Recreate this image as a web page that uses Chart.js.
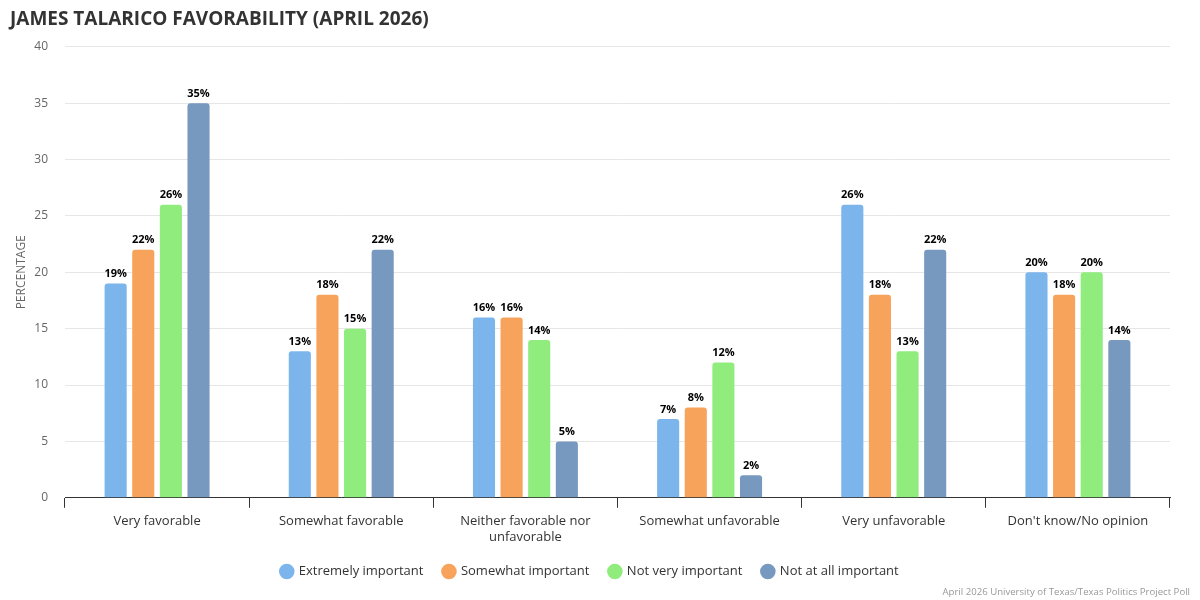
<!DOCTYPE html>
<html>
<head>
<meta charset="utf-8">
<script src="https://cdn.jsdelivr.net/npm/chart.js@4"></script>
<style>
html,body{margin:0;padding:0;background:#fff;}
#wrap{position:relative;width:1200px;height:600px;}
#credit{position:absolute;right:10px;bottom:2px;font:9.6px "Open Sans",sans-serif;color:#999;}
</style>
</head>
<body>
<div id="wrap">
<canvas id="c" width="1200" height="600"></canvas>
<div id="credit">April 2026 University of Texas/Texas Politics Project Poll</div>
</div>
<script>
const categories = [
  "Very favorable",
  "Somewhat favorable",
  ["Neither favorable nor", "unfavorable"],
  "Somewhat unfavorable",
  "Very unfavorable",
  "Don't know/No opinion"
];
const seriesNames = ["Extremely important", "Somewhat important", "Not very important", "Not at all important"];
const extremelyImportant = [19, 13, 16, 7, 26, 20];
const somewhatImportant = [22, 18, 16, 8, 18, 18];
const notVeryImportant = [26, 15, 14, 12, 13, 20];
const notAtAllImportant = [35, 22, 5, 2, 22, 14];
const yTicks = [0, 5, 10, 15, 20, 25, 30, 35, 40];
const colors = ["#7cb5ec", "#f7a35c", "#90ed7d", "#7798bf"];

const seriesValues = [extremelyImportant, somewhatImportant, notVeryImportant, notAtAllImportant];

const labelPlugin = {
  id: 'barLabels',
  afterDatasetsDraw(chart) {
    const ctx = chart.ctx;
    ctx.save();
    ctx.font = 'bold 11px "Open Sans", sans-serif';
    ctx.fillStyle = '#000';
    ctx.textAlign = 'center';
    ctx.textBaseline = 'bottom';
    chart.data.datasets.forEach((ds, i) => {
      const meta = chart.getDatasetMeta(i);
      meta.data.forEach((el, j) => {
        ctx.fillText(ds.data[j] + '%', el.x, el.y - 4);
      });
    });
    ctx.restore();
  }
};

new Chart(document.getElementById('c'), {
  type: 'bar',
  data: {
    labels: categories,
    datasets: seriesNames.map((n, i) => ({
      label: n,
      data: seriesValues[i],
      backgroundColor: colors[i],
      borderRadius: {topLeft: 3, topRight: 3, bottomLeft: 0, bottomRight: 0},
      borderSkipped: 'bottom',
      categoryPercentage: 0.6,
      barPercentage: 0.8
    }))
  },
  options: {
    responsive: false,
    animation: false,
    devicePixelRatio: 1,
    layout: {padding: {left: 10, right: 30, top: 0, bottom: 12}},
    plugins: {
      title: {
        display: true,
        text: 'JAMES TALARICO FAVORABILITY (APRIL 2026)',
        align: 'start',
        color: '#333',
        font: {family: '"Open Sans", sans-serif', size: 19, weight: 'bold'},
        padding: {top: 8, bottom: 16}
      },
      legend: {
        position: 'bottom',
        labels: {
          usePointStyle: true,
          pointStyle: 'circle',
          boxWidth: 11,
          boxHeight: 11,
          color: '#333',
          padding: 20,
          font: {family: '"Open Sans", sans-serif', size: 13}
        }
      },
      tooltip: {enabled: false}
    },
    scales: {
      x: {
        afterFit(scale) { scale.height -= 6; },
        grid: {display: true, drawOnChartArea: false, drawTicks: true, tickLength: 10, color: '#333', offset: true},
        border: {display: true, color: '#333', width: 1},
        ticks: {color: '#333', font: {family: '"Open Sans", sans-serif', size: 13}, padding: 6, maxRotation: 0, autoSkip: false}
      },
      y: {
        min: 0, max: 40,
        afterBuildTicks(scale) { scale.ticks = yTicks.map(v => ({value: v})); },
        afterFit(scale) { scale.width = 55; },
        grid: {color: '#e6e6e6', drawTicks: false},
        border: {display: false},
        ticks: {color: '#666', font: {family: '"Open Sans", sans-serif', size: 12}, padding: 17},
        title: {display: true, text: 'PERCENTAGE', color: '#666', font: {family: '"Open Sans", sans-serif', size: 12}, padding: {top: 4, bottom: 4}}
      }
    }
  },
  plugins: [labelPlugin]
});
</script>
</body>
</html>
